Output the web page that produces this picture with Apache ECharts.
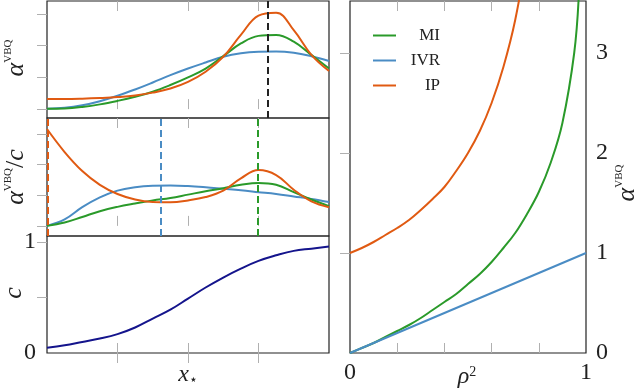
<!DOCTYPE html>
<html>
<head>
<meta charset="utf-8">
<script src="https://cdn.jsdelivr.net/npm/echarts@6/dist/echarts.min.js"></script>
<style>
html, body { margin: 0; padding: 0; background: #fff; }
#main { width: 640px; height: 392px; }
</style>
</head>
<body>
<div id="main"></div>
<script>
var green = '#2a9a2a', blue = '#4a8cc4', orange = '#e05a12', navy = '#14148c';
var serif = 'Liberation Serif';

// x* positions shared by the three left panels
var xs = [0, 0.25, 0.5, 0.75, 1, 1.25, 1.5, 1.75, 2, 2.25, 2.5, 2.75, 3, 3.25, 3.5, 3.75, 4];

// top panel: alpha^VBQ
var topMI  = [0.01, 0.02, 0.07, 0.15, 0.26, 0.39, 0.55, 0.76, 1.0, 1.28, 1.67, 2.07, 2.31, 2.34, 2.13, 1.71, 1.28];
var topIVR = [0.01, 0.04, 0.12, 0.25, 0.42, 0.62, 0.84, 1.07, 1.28, 1.47, 1.65, 1.76, 1.81, 1.82, 1.78, 1.67, 1.52];
var topIP  = [0.32, 0.32, 0.33, 0.35, 0.38, 0.43, 0.52, 0.65, 0.86, 1.18, 1.65, 2.34, 2.95, 3.04, 2.49, 1.71, 1.2];
var topPeak = [3.13];

// middle panel: alpha^VBQ / c
var midMI  = [0, 0.11, 0.29, 0.48, 0.62, 0.73, 0.83, 0.91, 1.02, 1.13, 1.23, 1.34, 1.40, 1.34, 1.10, 0.86, 0.64];
var midIVR = [0, 0.21, 0.61, 0.93, 1.15, 1.26, 1.31, 1.32, 1.30, 1.26, 1.21, 1.16, 1.10, 1.04, 0.96, 0.88, 0.78];
var midIP  = [3.16, 2.41, 1.79, 1.34, 1.04, 0.86, 0.78, 0.77, 0.83, 0.94, 1.15, 1.55, 1.82, 1.66, 1.18, 0.80, 0.61];
var midPeakMI = [2.99], midPeakIVR = [1.61], midPeakIP = [0.014];

// bottom panel: c
var cVals = [0.048, 0.07, 0.1, 0.13, 0.17, 0.23, 0.31, 0.39, 0.49, 0.59, 0.68, 0.76, 0.83, 0.88, 0.92, 0.94, 0.96];

// right panel: alpha^VBQ against rho^2
var rho  = [0, 0.05, 0.1, 0.15, 0.2, 0.25, 0.3, 0.35, 0.4, 0.45, 0.5, 0.55, 0.6, 0.65, 0.7, 0.75, 0.8, 0.85, 0.9, 0.95, 0.97];
var rMI  = [0, 0.05, 0.1, 0.16, 0.22, 0.28, 0.35, 0.43, 0.51, 0.59, 0.69, 0.79, 0.91, 1.05, 1.2, 1.39, 1.61, 1.9, 2.3, 3.0, 3.6];
var rIP  = [1, 1.05, 1.11, 1.18, 1.25, 1.33, 1.43, 1.54, 1.66, 1.82, 2.0, 2.22, 2.5, 2.86, 3.33, 4.0];
var rhoIVR = [0, 1];
var rIVR   = [0, 1];

var leftTicks = [1, 2, 3];
var rightXTicks = [0.2, 0.4, 0.6, 0.8];

function pairs(x, y) {
    return y.map(function (v, i) { return [x[i], v]; });
}

var myChart = echarts.init(document.getElementById('main'));

function tick(vals) {
    return { show: true, inside: true, length: 10, customValues: vals, lineStyle: { color: '#b0b0b0', width: 1 } };
}
function xAx(g, pos, min, max, vals) {
    return { type: 'value', gridIndex: g, position: pos, min: min, max: max,
        axisLine: { show: false }, axisTick: tick(vals), axisLabel: { show: false }, splitLine: { show: false } };
}
function yAx(g, min, max, vals) {
    return { type: 'value', gridIndex: g, position: 'right', min: min, max: max,
        axisLine: { show: false }, axisTick: tick(vals), axisLabel: { show: false }, splitLine: { show: false } };
}
var lbl = { show: true, fontFamily: serif, fontSize: 24, color: '#222' };

// left-side ticks on a 'left' axis would not turn inwards, so each panel gets a
// 10px wide helper grid on its left border carrying a right axis with inside ticks
var panels = [
    { left: 47, top: 1, width: 282, height: 117, ymin: -0.28, ymax: 3.41, yt: [0, 1, 2, 3] },
    { left: 47, top: 118, width: 282, height: 118, ymin: -0.33, ymax: 3.52, yt: [0, 1, 2, 3] },
    { left: 47, top: 236, width: 282, height: 117, ymin: 0, ymax: 1.054, yt: [0.5, 1] },
    { left: 350, top: 1, width: 236, height: 352, ymin: 0, ymax: 3.52, yt: [1, 2, 3] }
];

var gridBox = { show: true, borderColor: '#222', borderWidth: 1.2, backgroundColor: 'transparent' };
var grids = [];
panels.forEach(function (p) {
    grids.push(Object.assign({ left: p.left, top: p.top, width: p.width, height: p.height }, gridBox));
});
panels.forEach(function (p) {
    grids.push({ left: p.left, top: p.top, width: 10, height: p.height, show: false });
});

var xAxes = [
    xAx(0, 'bottom', 0, 4, leftTicks), xAx(0, 'top', 0, 4, leftTicks),
    xAx(1, 'bottom', 0, 4, leftTicks), xAx(1, 'top', 0, 4, leftTicks),
    xAx(2, 'bottom', 0, 4, leftTicks), xAx(2, 'top', 0, 4, leftTicks),
    xAx(3, 'bottom', 0, 1, rightXTicks), xAx(3, 'top', 0, 1, rightXTicks)
];
xAxes[6].axisLabel = Object.assign({ customValues: [0, 1], margin: 8 }, lbl);

var yAxes = panels.map(function (p, i) { return yAx(i, p.ymin, p.ymax, p.yt); });
yAxes[3].axisLabel = Object.assign({ customValues: [0, 1, 2, 3], margin: 10 }, lbl);
// c panel tick labels
yAxes.push({ type: 'value', gridIndex: 2, position: 'left', min: 0, max: 1.054,
    axisLine: { show: false }, axisTick: { show: false }, splitLine: { show: false },
    axisLabel: Object.assign({ customValues: [0, 1], margin: 11 }, lbl) });
panels.forEach(function (p, i) {
    xAxes.push({ type: 'value', gridIndex: 4 + i, show: false, min: 0, max: 1 });
    yAxes.push(yAx(4 + i, p.ymin, p.ymax, p.yt));
});

function line(name, data, color, xi, yi, extra) {
    var s = { name: name, type: 'line', data: data, xAxisIndex: xi, yAxisIndex: yi,
        showSymbol: false, smooth: 0.4, silent: true, z: 3,
        lineStyle: { color: color, width: 2 }, itemStyle: { color: color } };
    return Object.assign(s, extra || {});
}
function vline(vals, color) {
    return { markLine: { silent: true, symbol: 'none', label: { show: false }, animation: false,
        lineStyle: { color: color, width: 2, type: [7, 4] },
        data: vals.map(function (v) { return { xAxis: v }; }) } };
}

var sup = { fontFamily: serif, fontSize: 11, verticalAlign: 'top', fill: '#222' };
var ital = { fontFamily: serif, fontStyle: 'italic', fontSize: 26, fill: '#222' };

var option = {
    animation: false,
    grid: grids,
    xAxis: xAxes,
    yAxis: yAxes,
    legend: {
        data: ['MI', 'IVR', 'IP'], orient: 'vertical', left: 368, top: 22,
        itemWidth: 23, itemHeight: 2, itemGap: 8, icon: 'rect', selectedMode: false,
        formatter: '{r|{name}}',
        textStyle: { rich: { r: { width: 39, align: 'right', fontFamily: serif, fontSize: 17, lineHeight: 20, color: '#222' } } }
    },
    series: [
        line('IVR', pairs(xs, topIVR), blue, 0, 0),
        line('MI', pairs(xs, topMI), green, 0, 0, vline(topPeak, '#222')),
        line('IP', pairs(xs, topIP), orange, 0, 0),
        line('IVR', pairs(xs, midIVR), blue, 2, 1, vline(midPeakIVR, blue)),
        line('MI', pairs(xs, midMI), green, 2, 1, vline(midPeakMI, green)),
        line('IP', pairs(xs, midIP), orange, 2, 1, vline(midPeakIP, orange)),
        line('c', pairs(xs, cVals), navy, 4, 2),
        line('MI', pairs(rho, rMI), green, 6, 3),
        line('IVR', pairs(rhoIVR, rIVR), blue, 6, 3),
        line('IP', pairs(rho, rIP), orange, 6, 3)
    ],
    graphic: [
        { type: 'text', x: 16, y: 58, rotation: Math.PI / 2, style: { text: '{a|α}{s|VBQ}', align: 'center', verticalAlign: 'middle',
            rich: { a: ital, s: sup } } },
        { type: 'text', x: 16, y: 177, rotation: Math.PI / 2, style: { text: '{a|α}{s|VBQ}{n|/}{a|c}', align: 'center', verticalAlign: 'middle',
            rich: { a: ital, n: { fontFamily: serif, fontSize: 26, fill: '#222' }, s: sup } } },
        { type: 'text', x: 14, y: 293, rotation: Math.PI / 2, style: { text: 'c', align: 'center', verticalAlign: 'middle',
            fontFamily: serif, fontStyle: 'italic', fontSize: 26, fill: '#222' } },
        { type: 'text', x: 188, y: 375, style: { text: '{a|x}{b|⋆}', align: 'center', verticalAlign: 'middle',
            rich: { a: { fontFamily: serif, fontStyle: 'italic', fontSize: 24, fill: '#222' }, b: { fontFamily: 'DejaVu Sans', fontSize: 14, verticalAlign: 'bottom', fill: '#222' } } } },
        { type: 'text', x: 467, y: 377, style: { text: '{a|ρ}{s|2}', align: 'center', verticalAlign: 'middle',
            rich: { a: { fontFamily: serif, fontStyle: 'italic', fontSize: 24, fill: '#222' }, s: { fontFamily: serif, fontSize: 14, verticalAlign: 'top', fill: '#222' } } } },
        { type: 'text', x: 627, y: 183, rotation: Math.PI / 2, style: { text: '{a|α}{s|VBQ}', align: 'center', verticalAlign: 'middle',
            rich: { a: ital, s: sup } } }
    ]
};

myChart.setOption(option);
</script>
</body>
</html>
